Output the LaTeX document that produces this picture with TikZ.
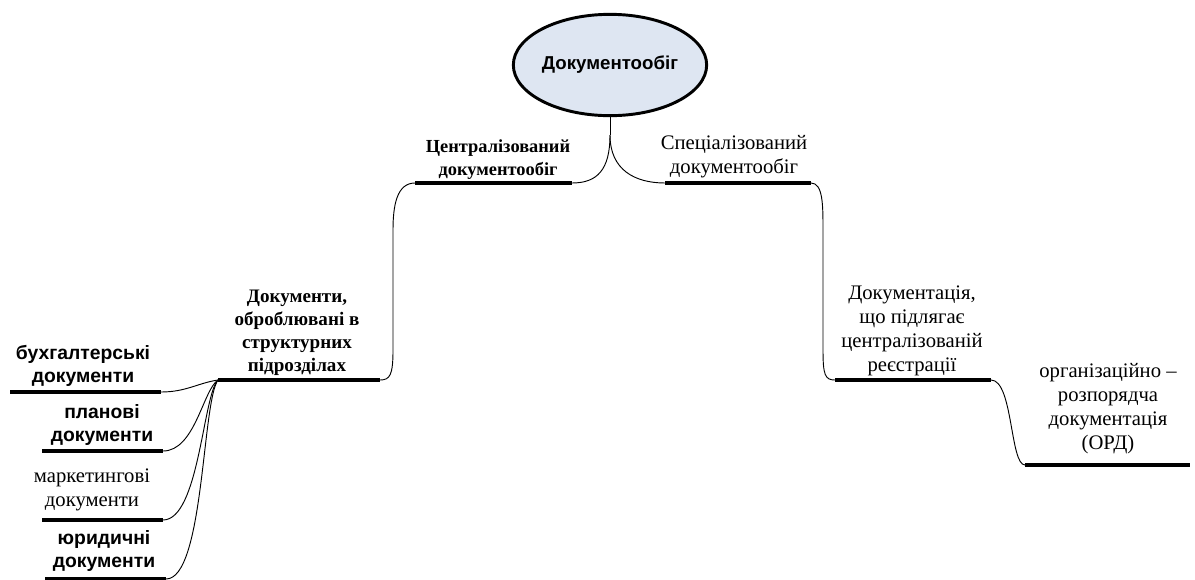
\documentclass[tikz,border=0pt]{standalone}
\usepackage{fontspec}
\setmainfont{Liberation Serif}
\newfontfamily\arialfont{Liberation Sans}
\usetikzlibrary{shapes.geometric}
\definecolor{ovalfill}{RGB}{222,230,242}
\begin{document}
\begin{tikzpicture}[x=0.75pt,y=-0.75pt,
  bar/.style={line width=3pt},
  link/.style={line width=0.7pt},
  lbl/.style={align=center, inner sep=1pt, anchor=south},
  serifbold/.style={lbl, font=\fontsize{14.3}{17.3}\selectfont\bfseries},
  serifplain/.style={lbl, font=\fontsize{15.5}{18}\selectfont},
  sansbold/.style={lbl, font=\arialfont\fontsize{14.5}{17}\selectfont\bfseries},
]
\useasboundingbox (0,0) rectangle (1195,579);

% root oval
\node[ellipse, draw, line width=2.2pt, fill=ovalfill, inner sep=0pt,
      minimum width=145pt, minimum height=76pt,
      font=\arialfont\fontsize{14}{16}\selectfont\bfseries] (root) at (610,65) {Документообіг};
\coordinate (split) at (610,135);

% bar end points
\coordinate (c1l) at (415,183); \coordinate (c1r) at (572,183);
\coordinate (c2l) at (665,183); \coordinate (c2r) at (811,183);
\coordinate (c3l) at (218,380); \coordinate (c3r) at (380,380);
\coordinate (c4l) at (835,380); \coordinate (c4r) at (991,380);
\coordinate (c5l) at (1025,465); \coordinate (c5r) at (1190,465);
\coordinate (b1l) at (10,392);  \coordinate (b1r) at (161,392);
\coordinate (b2l) at (42,451);  \coordinate (b2r) at (163,451);
\coordinate (b3l) at (42,520);  \coordinate (b3r) at (163,520);
\coordinate (b4l) at (45,579);  \coordinate (b4r) at (166,579);

% labels
\node[serifbold, font=\fontsize{13.8}{17}\selectfont\bfseries] (centr) at (498,181) {Централізований\\документообіг};
\node[serifplain] (spec) at (734,180) {Спеціалізований\\документообіг};
\node[serifbold] (units) at (297,377) {Документи,\\оброблювані в\\структурних\\підрозділах};
\node[serifplain] (reg) at (912,377) {Документація,\\що підлягає\\централізованій\\реєстрації};
\node[serifplain] (ord) at (1108,455) {організаційно –\\розпорядча\\документація\\(ОРД)};
\node[sansbold] (acc) at (83,388) {бухгалтерські\\документи};
\node[sansbold] (plan) at (102,447) {планові\\документи};
\node[serifplain] (mark) at (92,513) {маркетингові\\документи};
\node[sansbold] (law) at (104,573) {юридичні\\документи};

% bars
\foreach \a/\b in {c1l/c1r,c2l/c2r,c3l/c3r,c4l/c4r,c5l/c5r,b1l/b1r,b2l/b2r,b3l/b3r,b4l/b4r}
  \draw[bar] (\a) -- (\b);

% connectors
\draw[link] (root.south) -- (split);
\draw[link] (split) .. controls +(0,35) and +(25,0) .. (c1r);
\draw[link] (split) .. controls +(0,35) and +(-30,0) .. (c2l);
\draw[link] (c1l) .. controls +(-18,0) and +(0,-25) .. (393,230) -- (393,350)
               .. controls +(0,25) and +(10,0) .. (c3r);
\draw[link] (c2r) .. controls +(12,0) and +(0,-25) .. (823,230) -- (823,350)
               .. controls +(0,25) and +(-10,0) .. (c4l);
\draw[link] (c4r) .. controls +(22,0) and +(-15,0) .. (c5l);
\draw[link] (b1r) .. controls +(25,0) and +(-20,3) .. (c3l);
\draw[link] (b2r) .. controls +(32,0) and +(-15,10) .. (c3l);
\draw[link] (b3r) .. controls +(36,0) and +(-15,15) .. (c3l);
\draw[link] (b4r) .. controls +(38,0) and +(-16,22) .. (c3l);
\end{tikzpicture}
\end{document}
